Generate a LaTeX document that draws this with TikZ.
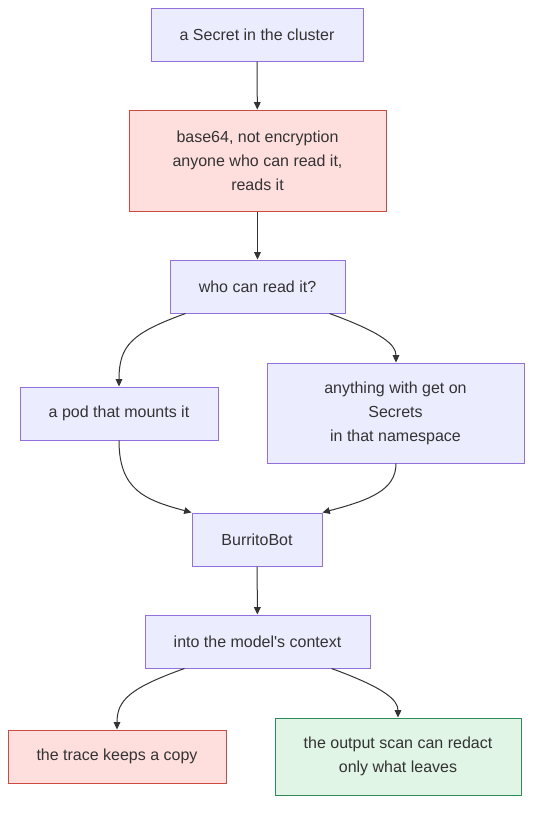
\documentclass[tikz,border=0pt]{standalone}
\usepackage{fontspec}
\setmainfont{Liberation Sans}
\usetikzlibrary{arrows.meta,calc}
\definecolor{pfill}{HTML}{ECECFF}
\definecolor{pstroke}{HTML}{9370DB}
\definecolor{rfill}{HTML}{FFDEDE}
\definecolor{rstroke}{HTML}{CC4A3F}
\definecolor{gfill}{HTML}{E0F5E6}
\definecolor{gstroke}{HTML}{2E8B57}
\definecolor{txt}{HTML}{333333}
\definecolor{edge}{HTML}{333333}
\newcommand{\straightquote}{\XeTeXglyph\XeTeXcharglyph"0027\relax}
\tikzset{
  box/.style={draw=pstroke, fill=pfill, line width=0.75pt, inner sep=0pt, align=center, text=txt, font=\fontsize{12}{18}\selectfont},
  redbox/.style={box, draw=rstroke, fill=rfill},
  greenbox/.style={box, draw=gstroke, fill=gfill},
  conn/.style={draw=edge, line width=0.75pt, -{Triangle[length=5.5pt,width=5pt]}},
}
\begin{document}
\begin{tikzpicture}[x=0.75pt,y=-0.75pt]
\useasboundingbox (0,0) rectangle (540,814);
\node[box, minimum width=212*0.75pt, minimum height=53*0.75pt] (n1) at (257,34.5) {a Secret in the cluster};
\node[redbox, minimum width=257*0.75pt, minimum height=101*0.75pt] (n2) at (257.5,160.5) {base64, not encryption\\anyone who can read it,\\reads it};
\node[box, minimum width=175*0.75pt, minimum height=53*0.75pt] (n3) at (257.5,286.5) {who can read it?};
\node[box, minimum width=198*0.75pt, minimum height=53*0.75pt] (n4) at (119,413.5) {a pod that mounts it};
\node[box, minimum width=257*0.75pt, minimum height=100*0.75pt] (n5) at (395.5,413) {anything with get on\\Secrets\\in that namespace};
\node[box, minimum width=130*0.75pt, minimum height=53*0.75pt] (n6) at (257,539.5) {BurritoBot};
\node[box, minimum width=225*0.75pt, minimum height=53*0.75pt] (n7) at (257.5,641.5) {into the model\straightquote s context};
\node[redbox, minimum width=218*0.75pt, minimum height=53*0.75pt] (n8) at (117,756.5) {the trace keeps a copy};
\node[greenbox, minimum width=246*0.75pt, minimum height=77*0.75pt] (n9) at (398,756.5) {the output scan can redact\\only what leaves};

\draw[conn] (n1) -- (n2);
\draw[conn] (n2) -- (n3);
\draw[conn] ($(n3.south)+(-72,0)$) .. controls (132,333) and (119,345) .. (n4.north);
\draw[conn] ($(n3.south)+(72,0)$) .. controls (383,333) and (396,345) .. ($(n5.north)+(0.5,0)$);
\draw[conn] (n4.south) .. controls (119,490) and (145,500) .. (n6.north west);
\draw[conn] ($(n5.south)+(0.5,0)$) .. controls (396,490) and (370,500) .. (n6.north east);
\draw[conn] (n6) -- (n7);
\draw[conn] ($(n7.south)+(-73,0)$) .. controls (130,688) and (117,700) .. (n8.north);
\draw[conn] ($(n7.south)+(74,0)$) .. controls (385,688) and (398,700) .. (n9.north);
\end{tikzpicture}
\end{document}
